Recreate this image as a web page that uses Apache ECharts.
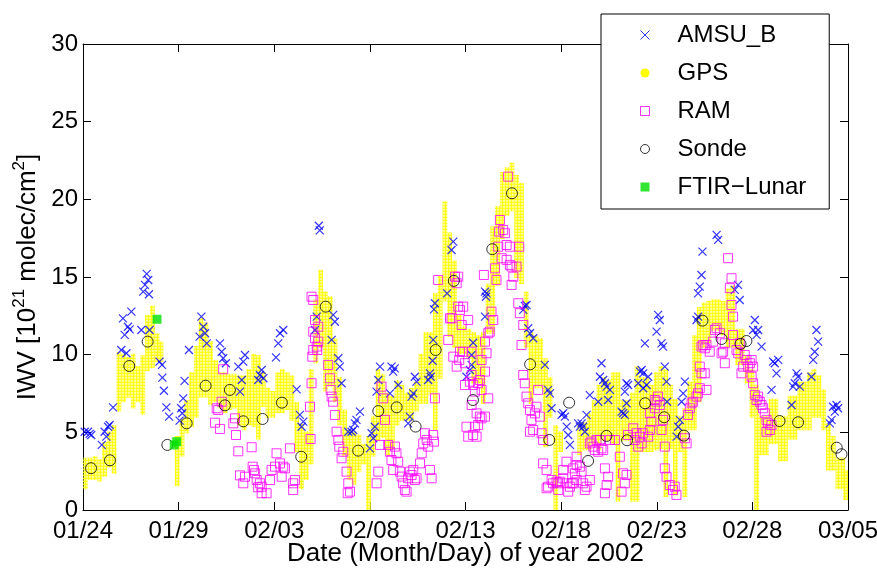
<!DOCTYPE html>
<html>
<head>
<meta charset="utf-8">
<title>IWV Jan-Mar 2002</title>
<script src="https://cdn.jsdelivr.net/npm/echarts@6/dist/echarts.min.js"></script>
<style>
  html, body { margin: 0; padding: 0; background: #fff; }
  #chart { width: 877px; height: 568px; }
</style>
</head>
<body>
<div id="chart"></div>
<script>
// x values are days since 01/24/2002, y values IWV in 10^21 molec/cm^2
const tickLabels = ['01/24', '01/29', '02/03', '02/08', '02/13', '02/18', '02/23', '02/28', '03/05']

const amsuB = [
  [0.09, 5.04], [0.26, 5.04], [0.35, 4.9], [0.43, 4.83],
  [0.98, 4.19], [1.13, 5.04], [1.22, 4.72], [1.31, 5.36], [1.39, 5.47], [1.57, 6.61],
  [2.0, 10.3], [2.09, 12.34], [2.18, 11.27], [2.27, 10.09], [2.35, 11.8], [2.44, 11.63], [2.53, 12.77],
  [3.05, 11.59], [3.15, 14.06], [3.24, 14.49], [3.33, 15.2], [3.41, 14.81], [3.45, 13.89], [3.48, 11.59],
  [4.0, 9.55], [4.13, 9.34], [4.15, 8.52], [4.23, 7.68], [4.36, 6.61], [4.5, 6.01],
  [5.05, 5.75], [5.14, 6.55], [5.19, 6.23], [5.24, 7.19], [5.31, 8.31], [5.54, 10.3],
  [6.1, 11.16], [6.19, 12.45], [6.29, 11.8], [6.38, 11.38], [6.47, 10.73],
  [7.16, 10.73], [7.25, 10.19], [7.33, 9.77], [7.47, 9.45],
  [8.12, 9.23], [8.21, 7.62], [8.3, 8.37], [8.38, 9.55], [8.47, 9.98],
  [9.16, 8.37], [9.25, 8.69], [9.34, 9.01], [9.43, 8.48],
  [10.09, 9.83], [10.21, 10.73], [10.3, 11.38], [10.47, 11.59],
  [11.17, 7.77], [11.34, 6.12], [11.43, 5.36], [11.52, 5.69],
  [12.13, 11.59], [12.22, 12.45], [12.33, 18.3], [12.38, 18.0],
  [13.0, 10.95], [13.08, 12.56], [13.17, 12.12], [13.35, 9.77], [13.43, 9.23], [13.52, 8.16], [13.87, 5.04],
  [14.04, 5.04], [14.13, 5.15], [14.22, 5.58], [14.3, 5.8], [14.48, 6.33],
  [15.0, 3.97], [15.09, 4.94], [15.18, 4.62], [15.26, 5.36], [15.35, 7.62], [15.44, 8.37], [15.53, 9.23],
  [16.05, 7.51], [16.13, 9.23], [16.22, 8.91], [16.3, 9.12], [16.48, 8.05],
  [17.0, 5.58], [17.09, 6.01], [17.18, 7.3], [17.27, 7.51], [17.35, 8.58], [17.44, 8.26],
  [18.05, 8.37], [18.14, 8.8], [18.18, 8.58], [18.28, 9.61], [18.31, 10.95], [18.35, 12.92], [18.4, 13.31],
  [19.04, 13.95], [19.27, 16.74], [19.36, 17.28],
  [20.05, 8.58], [20.23, 9.01], [20.32, 9.34], [20.32, 9.98], [20.4, 10.77],
  [21.02, 12.45], [21.02, 14.06], [21.07, 13.73], [21.1, 13.95],
  [23.02, 12.88], [23.1, 13.14], [23.19, 13.2], [23.28, 11.7], [23.37, 11.38], [23.54, 11.06],
  [24.15, 9.34], [24.32, 7.73], [24.41, 7.51], [24.5, 6.55],
  [25.02, 6.12], [25.11, 6.23], [25.2, 6.01], [25.29, 5.37], [25.37, 4.83], [25.46, 4.19], [25.89, 5.58], [25.98, 5.37],
  [26.07, 5.58], [26.15, 5.36], [26.24, 5.04], [26.33, 6.12], [26.5, 7.4],
  [26.94, 6.97], [27.03, 8.58], [27.11, 9.45], [27.2, 8.37], [27.29, 8.16], [27.38, 7.94], [27.46, 7.08], [27.55, 7.73],
  [28.16, 6.33], [28.24, 6.23], [28.33, 6.12], [28.33, 7.62], [28.42, 8.16], [28.42, 6.87], [28.5, 8.05],
  [29.03, 8.16], [29.12, 8.91], [29.21, 9.01], [29.29, 8.8], [29.29, 7.84], [29.38, 10.73], [29.47, 8.05], [29.55, 8.58],
  [29.99, 11.48], [30.07, 12.56], [30.16, 12.23], [30.25, 10.73], [30.33, 10.52], [30.42, 9.23], [30.51, 8.26], [30.54, 6.97],
  [31.04, 4.72], [31.12, 5.36], [31.21, 5.8], [31.3, 6.97], [31.38, 7.51], [31.47, 8.26],
  [32.08, 12.23], [32.16, 12.45], [32.16, 13.95], [32.25, 14.38], [32.34, 15.13], [32.39, 16.63],
  [33.13, 17.71], [33.21, 17.39],
  [34.08, 14.17], [34.25, 14.49], [34.34, 13.52],
  [35.04, 11.59], [35.13, 12.23], [35.22, 11.27], [35.3, 11.59], [35.48, 10.52],
  [36.0, 7.73], [36.08, 9.55], [36.17, 9.45], [36.26, 8.8], [36.35, 9.66],
  [37.05, 6.76], [37.13, 7.94], [37.22, 8.16], [37.31, 8.8], [37.39, 8.58], [37.48, 7.94],
  [38.09, 8.58], [38.18, 9.66], [38.26, 10.19], [38.35, 11.59], [38.44, 10.84],
  [39.05, 5.58], [39.14, 5.8], [39.22, 6.65], [39.31, 6.33], [39.4, 6.76], [39.48, 6.55]
]

// GPS: dotted band, each column covers gpsT .. gpsT + GPS_STEP days, from gpsLo to gpsHi
const GPS_STEP = 0.25
const gpsT = [
  0, 0.25, 0.5, 0.75, 1, 1.25, 1.5, 1.75, 2, 2.25, 2.5, 2.75, 3, 3.25, 3.5, 3.75, 3.95,
  4.8, 5.05, 5.3, 5.55, 5.8, 6.05, 6.3, 6.55, 6.8, 7.05, 7.3, 7.55, 7.8, 8.05, 8.3, 8.55, 8.8, 9.05, 9.3, 9.55, 9.8,
  10.05, 10.3, 10.55, 10.8, 11.05, 11.3, 11.55, 11.8, 12.05, 12.3, 12.55, 12.8, 13.05, 13.3, 13.55, 13.8,
  14.05, 14.3, 14.55, 14.8, 15.05, 15.3, 15.55, 15.8, 16.05, 16.3, 16.55, 16.8, 17.05, 17.3, 17.55, 17.8,
  18.05, 18.3, 18.55, 18.8, 19.05, 19.3, 19.55, 19.8, 20.05, 20.3, 20.55, 20.8, 21.05, 21.3, 21.55, 21.8,
  22.05, 22.3, 22.55, 22.8, 23.05, 23.3, 23.55, 23.8, 24.05, 24.3, 24.6, 24.85,
  25.85, 26.1, 26.35, 26.6, 26.85, 27.1, 27.35, 27.6, 27.85, 28.1, 28.35, 28.6, 28.85, 29.1, 29.35, 29.6, 29.85,
  30.1, 30.35, 30.6, 30.85, 31.1, 31.35, 31.6, 31.85, 32.1, 32.35, 32.6, 32.85, 33.1, 33.35, 33.6, 33.85,
  34.1, 34.35, 34.6, 34.85, 35.1, 35.35, 35.6, 35.85, 36.1, 36.35, 36.6, 36.85, 37.1, 37.35, 37.6, 37.85,
  38.1, 38.35, 38.6, 38.85, 39.1, 39.35, 39.6, 39.75
]
const gpsLo = [
  1.4, 2.0, 2.0, 1.9, 2.2, 2.8, 2.4, 6.4, 7.0, 7.3, 6.6, 7.0, 6.2, 9.0, 9.2, 9.6, 9.6,
  1.6, 3.5, 5.0, 5.4, 6.0, 7.3, 7.3, 6.8, 7.0, 6.6, 6.3, 6.5, 6.6, 5.5, 5.2, 5.5, 5.4, 4.6, 6.7, 6.0, 6.0,
  6.3, 6.3, 6.5, 5.8, 3.8, 1.4, 2.0, 3.0, 9.5, 10.5, 7.7, 8.0, 7.0, 5.5, 3.5, 2.0,
  1.7, 2.5, 3.0, 0.0, 3.5, 4.5, 4.7, 3.6, 4.0, 5.5, 5.8, 5.8, 5.8, 6.4, 6.9, 6.9,
  7.5, 5.2, 8.5, 13.5, 11.2, 10.5, 10.1, 10.1, 9.8, 8.2, 8.2, 6.9, 11.4, 11.4, 14.5, 17.5,
  19.0, 19.3, 15.0, 14.6, 10.5, 6.9, 7.9, 7.9, 4.1, 6.0, 0.0, 3.8,
  3.6, 3.9, 3.9, 4.3, 3.9, 4.5, 4.5, 4.3, 0.6, 4.5, 4.5, 0.6, 0.6, 3.8, 3.8, 3.8, 3.9,
  4.0, 0.9, 4.0, 1.0, 3.8, 0.9, 5.2, 5.2, 7.0, 10.5, 10.8, 11.6, 11.6, 11.3, 10.5, 10.5,
  9.4, 9.4, 8.2, 6.0, 0.0, 3.6, 3.6, 4.3, 4.3, 3.2, 3.2, 4.6, 4.6, 5.2, 5.2, 5.2,
  6.0, 6.0, 5.2, 2.6, 2.6, 1.4, 1.4, 0.7
]
const gpsHi = [
  3.3, 3.3, 3.4, 3.2, 4.3, 5.0, 5.4, 10.1, 10.0, 9.8, 10.0, 9.2, 9.9, 12.5, 13.1, 11.3, 10.8,
  4.7, 5.8, 7.0, 8.8, 10.5, 12.3, 12.0, 10.8, 9.6, 8.8, 8.8, 8.7, 8.7, 8.6, 8.6, 9.0, 10.0, 9.9, 8.8, 7.8, 7.6,
  8.8, 9.0, 8.8, 8.6, 6.9, 5.5, 5.0, 9.0, 13.5, 15.4, 14.0, 13.7, 11.0, 8.5, 6.4, 5.1,
  5.0, 4.8, 4.2, 4.7, 6.0, 9.0, 8.7, 7.5, 7.3, 8.3, 8.0, 7.5, 7.8, 8.2, 10.0, 11.4,
  11.4, 13.9, 15.0, 19.8, 17.8, 16.0, 12.5, 11.8, 11.6, 11.4, 11.2, 11.4, 14.5, 18.2, 19.5, 21.7,
  22.0, 22.3, 21.5, 21.0, 14.0, 11.4, 11.2, 11.0, 9.7, 8.5, 5.4, 5.0,
  5.6, 5.6, 6.2, 7.0, 8.0, 8.5, 8.3, 8.8, 8.8, 7.0, 7.0, 7.5, 9.2, 8.5, 8.5, 8.0, 8.8,
  9.2, 9.0, 8.0, 7.1, 6.0, 6.5, 8.2, 11.2, 13.0, 13.3, 13.4, 13.5, 13.5, 13.4, 14.2, 14.4,
  11.6, 11.6, 9.9, 9.0, 8.0, 6.0, 6.0, 7.1, 7.1, 6.0, 6.0, 7.3, 7.3, 8.2, 8.2, 8.8,
  9.0, 8.6, 7.7, 5.5, 4.7, 3.3, 3.3, 2.5
]

const ram = [
  [6.9, 5.62], [6.99, 6.55], [7.07, 6.44], [7.16, 5.22], [7.25, 6.97], [7.33, 9.06], [7.86, 5.58], [7.95, 5.9], [8.0, 4.83], [8.12, 3.78], [8.82, 4.04],
  [8.21, 2.23], [8.38, 1.72], [8.47, 2.14], [8.87, 2.79], [8.94, 2.58], [9.0, 2.36], [9.08, 1.93], [9.16, 1.46], [9.25, 1.72], [9.34, 1.5], [9.34, 1.08], [9.6, 1.08],
  [9.78, 1.93], [9.86, 2.58], [10.04, 2.79], [10.12, 3.65], [10.3, 3.0], [10.39, 2.14], [10.47, 2.79], [10.56, 2.68], [10.82, 3.97], [10.99, 1.72], [11.08, 1.93], [10.99, 1.29],
  [11.87, 6.65], [11.9, 4.57], [11.95, 8.16], [11.95, 13.73], [12.04, 13.52], [11.99, 9.87], [12.04, 10.3], [12.04, 11.48], [12.13, 11.06], [12.22, 10.52], [12.3, 10.84], [12.25, 10.3], [12.3, 11.8], [12.13, 12.23],
  [12.82, 9.34], [12.91, 8.48], [12.95, 7.73], [13.0, 7.3], [13.08, 6.97], [13.17, 6.12], [13.26, 5.04], [13.35, 4.51], [13.4, 4.08], [13.52, 3.33], [13.61, 3.75], [13.78, 2.47], [13.87, 1.72], [13.84, 1.08], [13.96, 1.18],
  [15.35, 1.72], [15.44, 2.47], [15.53, 4.19], [15.61, 7.94], [15.7, 7.19], [15.79, 5.8],
  [15.96, 4.19], [16.05, 3.75], [16.13, 3.22], [16.22, 2.58], [16.31, 4.08], [16.39, 3.65], [16.48, 3.11], [16.57, 2.47], [16.66, 2.15], [16.74, 1.72], [16.83, 1.29], [16.92, 1.18],
  [17.0, 2.04], [17.09, 2.47], [17.18, 2.25], [17.27, 2.58], [17.35, 1.93], [17.44, 2.04], [17.62, 3.0], [17.71, 3.65], [17.79, 4.29], [17.88, 4.94], [17.97, 4.51], [18.05, 4.08], [18.14, 2.58], [18.23, 2.04],
  [18.31, 4.83], [18.35, 4.4], [18.4, 7.19], [18.57, 14.81],
  [19.1, 10.95], [19.19, 12.34], [19.27, 12.34], [19.36, 9.87], [19.45, 15.02], [19.54, 9.23], [19.54, 14.6], [19.62, 15.02], [19.62, 13.09], [19.67, 9.66], [19.71, 10.19], [19.71, 12.88],
  [19.8, 11.91], [19.88, 10.19], [19.88, 13.09], [19.97, 9.45], [20.14, 12.23],
  [19.97, 8.05], [20.05, 5.36], [20.14, 4.72], [20.23, 8.26], [20.32, 6.76], [20.32, 10.19], [20.32, 8.69], [20.4, 8.05], [20.4, 4.83], [20.49, 7.62], [20.49, 5.36], [20.58, 6.22], [20.58, 4.72],
  [20.66, 5.47], [20.66, 8.16], [20.75, 8.37], [20.75, 6.01], [20.84, 7.73], [20.84, 5.9], [20.84, 9.66], [20.96, 15.13], [21.02, 6.01], [21.02, 10.84], [21.02, 8.91], [21.1, 10.09],
  [21.19, 7.19], [21.19, 11.38], [21.27, 11.48], [21.36, 12.77], [21.45, 12.23],
  [21.54, 15.56], [21.62, 14.81], [21.71, 16.95], [21.76, 17.92], [21.8, 18.67], [21.89, 16.21], [21.97, 18.03], [22.06, 17.82], [22.15, 17.06], [22.15, 16.1], [22.23, 21.46],
  [22.32, 16.95], [22.32, 15.78], [22.41, 15.67], [22.41, 14.49], [22.5, 15.02], [22.67, 15.67], [22.81, 16.95],
  [22.76, 13.31], [22.84, 12.67], [22.93, 10.62], [23.02, 11.91], [23.02, 8.69], [23.1, 8.16], [23.19, 7.3], [23.28, 6.87], [23.37, 6.44], [23.45, 5.8], [23.54, 5.15], [23.37, 5.04],
  [23.63, 6.22], [23.71, 6.65], [23.8, 7.73], [23.89, 6.01], [23.98, 4.94], [24.06, 4.51],
  [24.06, 3.0], [24.24, 2.58], [24.32, 1.5], [24.24, 1.4], [24.5, 1.93], [24.58, 1.72], [24.76, 1.82], [24.85, 1.72], [24.85, 1.29], [24.93, 1.82], [25.11, 2.04], [25.11, 2.58],
  [25.28, 3.11], [25.29, 1.72], [25.37, 1.18], [25.46, 1.5], [25.63, 1.72], [25.63, 2.68], [25.81, 1.93], [25.81, 2.9],
  [25.55, 1.72], [25.72, 2.36], [25.81, 3.43], [25.98, 2.79], [26.07, 2.47], [26.15, 1.72], [26.24, 1.29], [26.33, 1.5], [26.5, 1.93],
  [26.5, 4.29], [26.59, 4.4], [26.68, 4.08], [26.76, 3.86], [26.85, 4.51], [26.94, 3.75], [27.03, 4.51], [27.11, 3.97], [27.2, 3.86],
  [27.29, 2.68], [27.46, 2.14], [27.38, 1.61], [27.29, 1.08],
  [27.55, 4.51], [27.81, 4.51], [28.07, 3.43], [28.24, 2.36], [28.16, 1.18], [28.33, 1.72], [28.42, 2.25],
  [28.5, 4.83], [28.77, 5.26], [28.94, 4.94], [28.85, 4.51], [29.12, 4.72], [29.21, 4.29], [29.03, 4.08], [29.29, 4.94], [29.55, 4.72], [29.64, 5.15], [29.72, 5.69], [29.64, 6.23],
  [29.9, 6.55], [29.99, 6.98], [30.07, 7.3], [29.9, 7.08], [30.16, 6.76], [30.25, 5.15], [30.42, 4.08], [30.33, 5.8],
  [30.42, 2.68], [30.51, 2.14], [30.68, 1.61], [30.85, 1.29], [31.03, 0.97], [30.94, 1.5],
  [31.47, 4.62], [31.56, 4.29], [31.64, 6.12], [31.73, 6.55], [31.82, 6.87], [31.9, 6.97], [32.08, 7.3], [32.16, 7.51], [32.25, 7.84], [32.34, 8.8], [32.25, 9.23], [32.34, 10.52],
  [32.43, 10.62], [32.51, 10.41], [32.6, 10.62], [32.51, 8.8], [32.6, 7.73], [32.77, 10.19], [32.95, 10.84], [33.04, 11.59], [33.13, 11.7], [33.3, 11.38], [33.47, 10.19], [33.56, 9.45],
  [33.39, 10.09], [33.56, 10.73], [33.73, 16.21], [33.91, 14.92], [33.82, 14.28], [33.91, 13.2], [33.99, 12.45], [33.99, 11.27], [34.17, 10.3], [34.26, 10.09], [34.34, 10.73],
  [34.43, 8.8], [34.52, 9.23], [34.6, 9.98], [34.69, 9.66], [34.78, 9.23], [34.87, 9.45], [34.96, 9.66], [35.04, 9.23], [34.96, 8.58], [35.04, 8.16], [35.13, 7.41], [35.22, 7.08],
  [35.3, 7.3], [35.39, 6.97], [35.48, 6.76], [35.56, 6.55], [35.65, 6.23], [35.74, 5.8], [35.82, 5.58], [35.74, 5.04], [35.91, 5.15], [36.0, 5.47]
]

const sonde = [
  [0.42, 2.69], [1.41, 3.2], [2.42, 9.27], [3.38, 10.84], [4.41, 4.19], [5.42, 5.58], [6.41, 8.0], [7.42, 6.74], [7.68, 7.73],
  [8.38, 5.71], [9.39, 5.86], [10.4, 6.91], [11.41, 3.43], [12.69, 13.09], [14.39, 3.82], [15.44, 6.37], [16.4, 6.61], [17.39, 5.37],
  [18.44, 10.3], [19.39, 14.75], [20.39, 7.08], [21.4, 16.79], [22.43, 20.39], [23.38, 9.38], [24.38, 4.51], [25.42, 6.91],
  [26.41, 3.16], [27.37, 4.77], [28.45, 4.49], [29.39, 6.87], [30.39, 5.97], [31.42, 4.79], [32.39, 12.19], [33.39, 11.01],
  [34.38, 10.69], [34.69, 10.88], [36.42, 5.73], [37.39, 5.65], [39.41, 4.01], [39.66, 3.59]
]

const ftirLunar = [[3.87, 12.28], [4.77, 4.19], [4.9, 4.4]]

const FONT = "'Liberation Sans', Arial, Helvetica, sans-serif"

// small tile of one yellow dot, repeated to fill the GPS columns
function dotTile(color) {
  const c = document.createElement('canvas')
  c.width = 3
  c.height = 3
  const ctx = c.getContext('2d')
  ctx.fillStyle = color
  ctx.beginPath()
  ctx.arc(1.5, 1.5, 1.4, 0, Math.PI * 2)
  ctx.fill()
  return c
}
const gpsDots = dotTile('#ffff00')

const chart = echarts.init(document.getElementById('chart'))

const axisCommon = {
  type: 'value',
  axisLine: { show: true, onZero: false, lineStyle: { color: '#000', width: 1 } },
  axisTick: { show: true, inside: true, length: 8, lineStyle: { color: '#000', width: 1 } },
  splitLine: { show: false }
}

chart.setOption({
  backgroundColor: '#fff',
  animation: false,
  textStyle: { fontFamily: FONT },
  grid: { left: 83, right: 29, top: 44, bottom: 58, containLabel: false, outerBoundsMode: 'none' },
  legend: {
    left: 601,
    top: 14,
    orient: 'vertical',
    z: 10,
    backgroundColor: '#fff',
    borderColor: '#000',
    borderWidth: 1,
    borderRadius: 0,
    padding: [9, 23, 10, 37],
    itemWidth: 9,
    itemHeight: 9,
    itemGap: 14,
    selectedMode: false,
    formatter: name => '{g|}' + name,
    textStyle: {
      fontSize: 24,
      color: '#000',
      fontFamily: FONT,
      lineHeight: 24,
      rich: { g: { width: 23 } }
    },
    data: [
      { name: 'AMSU_B', icon: 'path://M0,0L10,10M10,0L0,10', itemStyle: { color: 'none', borderColor: '#0000ff', borderWidth: 1 } },
      { name: 'GPS', icon: 'circle', itemStyle: { color: '#ffff00', borderWidth: 0 } },
      { name: 'RAM', icon: 'rect', itemStyle: { color: 'none', borderColor: '#ff00ff', borderWidth: 1 } },
      { name: 'Sonde', icon: 'circle', itemStyle: { color: 'none', borderColor: '#000', borderWidth: 1 } },
      { name: 'FTIR\u2212Lunar', icon: 'rect', itemStyle: { color: '#00e000', borderWidth: 0 } }
    ]
  },
  xAxis: [
    Object.assign({}, axisCommon, {
      min: 0,
      max: 40,
      interval: 5,
      axisLabel: {
        formatter: v => tickLabels[Math.round(v / 5)],
        fontSize: 24,
        color: '#000',
        margin: 9,
        fontFamily: FONT
      },
      name: 'Date (Month/Day) of year 2002',
      nameLocation: 'middle',
      nameGap: 31,
      nameMoveOverlap: false,
      nameTextStyle: { fontSize: 26, color: '#000', fontFamily: FONT }
    }),
    Object.assign({}, axisCommon, {
      position: 'top',
      min: 0,
      max: 40,
      interval: 5,
      axisLabel: { show: false }
    })
  ],
  yAxis: [
    Object.assign({}, axisCommon, {
      min: 0,
      max: 30,
      interval: 5,
      axisLabel: { fontSize: 24, color: '#000', margin: 5, fontFamily: FONT },
      name: '{a|IWV [10}{s|21}{a| molec/cm}{s|2}{a|]}',
      nameLocation: 'middle',
      nameRotate: 90,
      nameGap: 28,
      nameTextStyle: {
        fontFamily: FONT,
        color: '#000',
        rich: {
          a: { fontSize: 26, lineHeight: 34, color: '#000', fontFamily: FONT },
          s: { fontSize: 17, lineHeight: 16, verticalAlign: 'top', color: '#000', fontFamily: FONT }
        }
      }
    }),
    Object.assign({}, axisCommon, {
      position: 'right',
      min: 0,
      max: 30,
      interval: 5,
      axisLabel: { show: false }
    })
  ],
  series: [
    {
      name: 'GPS',
      type: 'custom',
      z: 1,
      clip: true,
      itemStyle: { color: '#ffff00' },
      encode: { x: [0, 1], y: [2, 3] },
      data: gpsT.map((t, i) => [t, t + GPS_STEP, gpsLo[i], gpsHi[i]]),
      renderItem: (params, api) => {
        const a = api.coord([api.value(0), api.value(3)])
        const b = api.coord([api.value(1), api.value(2)])
        return {
          type: 'rect',
          shape: { x: a[0], y: a[1] - 1, width: b[0] - a[0], height: b[1] - a[1] + 2 },
          style: { fill: { image: gpsDots, repeat: 'repeat' } }
        }
      }
    },
    {
      name: 'AMSU_B',
      type: 'scatter',
      z: 2,
      symbol: 'path://M0,0L10,10M10,0L0,10',
      symbolSize: 8,
      itemStyle: { color: 'none', borderColor: '#0000ff', borderWidth: 1.2 },
      data: amsuB
    },
    {
      name: 'RAM',
      type: 'scatter',
      z: 3,
      symbol: 'rect',
      symbolSize: 9,
      itemStyle: { color: 'none', borderColor: '#ff00ff', borderWidth: 1 },
      data: ram
    },
    {
      name: 'Sonde',
      type: 'scatter',
      z: 4,
      symbol: 'circle',
      symbolSize: 11,
      itemStyle: { color: 'none', borderColor: '#000', borderWidth: 1 },
      data: sonde
    },
    {
      name: 'FTIR\u2212Lunar',
      type: 'scatter',
      z: 5,
      symbol: 'rect',
      symbolSize: 9,
      itemStyle: { color: '#00e000' },
      data: ftirLunar
    }
  ]
})

window.addEventListener('resize', () => chart.resize())
</script>
</body>
</html>
